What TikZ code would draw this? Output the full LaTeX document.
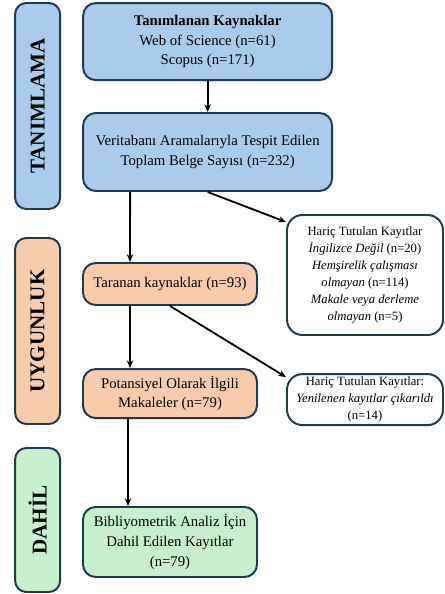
\documentclass[tikz,border=0pt]{standalone}
\usepackage{fontspec}
\setmainfont{Liberation Serif}
\usetikzlibrary{arrows.meta}

\definecolor{boxline}{HTML}{1F3A52}
\definecolor{idblue}{HTML}{A9CBEC}
\definecolor{elpeach}{HTML}{F8CBAD}
\definecolor{incgreen}{HTML}{C6EFCE}

\tikzset{
  phase/.style={draw=boxline, line width=1.4pt, rounded corners=8pt, rotate=90,
    font=\fontsize{15}{18}\selectfont\bfseries, minimum height=1.125cm, inner sep=0pt},
  stepbox/.style={draw=boxline, line width=1.4pt, rounded corners=9pt, align=center,
    font=\fontsize{10.5}{14}\selectfont, inner sep=2pt},
  exclbox/.style={draw=boxline, fill=white, line width=1.4pt, rounded corners=11pt, align=center,
    font=\fontsize{9}{12}\selectfont, inner sep=2pt, minimum width=3.9cm},
  arr/.style={-{Stealth[length=5.5pt,width=4.5pt]}, line width=1.3pt}
}

\begin{document}
\begin{tikzpicture}
  \useasboundingbox (0,0) rectangle (11.1,-14.85);
  % phases on the left
  \node[phase, fill=idblue, minimum width=5.15cm] (tanim) at (0.94,-2.65) {TANIMLAMA};
  \node[phase, fill=elpeach, minimum width=4.65cm] (uygun) at (0.94,-8.275) {UYGUNLUK};
  \node[phase, fill=incgreen, minimum width=3.6cm] (dahil) at (0.94,-13.0) {DAHİL};
  % main flow
  \node[stepbox, fill=idblue, minimum width=6.225cm, minimum height=1.925cm] (src) at (5.19,-1.04)
    {\textbf{Tanımlanan Kaynaklar}\\ Web of Science (n=61)\\ Scopus (n=171)};
  \node[stepbox, fill=idblue, minimum width=6.225cm, minimum height=1.95cm] (total) at (5.19,-3.8)
    {Veritabanı Aramalarıyla Tespit Edilen\\ Toplam Belge Sayısı (n=232)};
  \node[stepbox, fill=elpeach, minimum width=4.35cm, minimum height=1.05cm] (screened) at (4.25,-7.1)
    {Taranan kaynaklar (n=93)};
  \node[stepbox, fill=elpeach, minimum width=4.35cm, minimum height=1.225cm] (potential) at (4.25,-9.84)
    {Potansiyel Olarak İlgili\\ Makaleler (n=79)};
  \node[stepbox, fill=incgreen, minimum width=4.35cm, minimum height=1.75cm] (included) at (4.25,-13.55)
    {Bibliyometrik Analiz İçin\\ Dahil Edilen Kayıtlar\\ (n=79)};
  % excluded records
  \node[exclbox, minimum height=3.0cm] (excl1) at (9.125,-6.875)
    {Hariç Tutulan Kayıtlar\\ \textit{İngilizce Değil} (n=20)\\ \textit{Hemşirelik çalışması}\\
     \textit{olmayan} (n=114)\\ \textit{Makale veya derleme}\\ \textit{olmayan} (n=5)};
  \node[exclbox, minimum height=1.275cm] (excl2) at (9.125,-9.99)
    {Hariç Tutulan Kayıtlar:\\ \textit{Yenilenen kayıtlar çıkarıldı}\\ (n=14)};
  % arrows
  \draw[arr] (src) -- (total);
  \draw[arr] ([xshift=1.2cm]total.south west) -- ([xshift=1.2cm]screened.north west);
  \draw[arr] (total.south) -- ([yshift=-0.2cm]excl1.north west);
  \draw[arr] ([xshift=1.2cm]screened.south west) -- ([xshift=1.2cm]potential.north west);
  \draw[arr] (screened.south) -- ([yshift=-0.1cm]excl2.north west);
  \draw[arr] ([xshift=1.15cm]potential.south west) -- ([xshift=1.15cm]included.north west);
\end{tikzpicture}
\end{document}
